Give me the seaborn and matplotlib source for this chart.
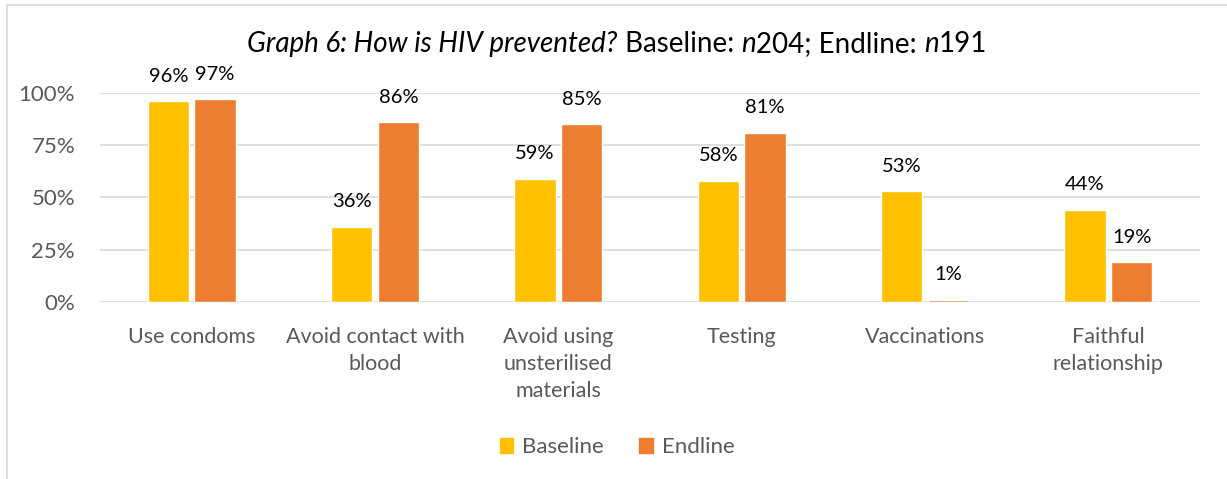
import pandas as pd
import numpy as np
import seaborn as sns
import matplotlib.pyplot as plt
from matplotlib.patches import Rectangle

# -------- data --------
categories = ['Use condoms', 'Avoid contact with\nblood', 'Avoid using\nunsterilised\nmaterials',
              'Testing', 'Vaccinations', 'Faithful\nrelationship']
baseline = [96, 36, 59, 58, 53, 44]
endline = [97, 86, 85, 81, 1, 19]
series_names = ['Baseline', 'Endline']
colors = ['#FFC000', '#ED7D31']

df = pd.DataFrame({
    'category': categories * 2,
    'value': np.array(baseline + endline) / 100,
    'series': [series_names[0]] * len(categories) + [series_names[1]] * len(categories),
})

sns.set_style('white')
plt.rcParams['font.family'] = ['Lato', 'DejaVu Sans']

fig = plt.figure(figsize=(12.27, 4.79), dpi=100)
ax = fig.add_axes([0.0815, 0.3695, 0.8965, 0.4365])

sns.barplot(data=df, x='category', y='value', hue='series', palette=colors,
            width=0.51, gap=0.12, ax=ax, legend=False, saturation=1)

ax.set_ylim(0, 1)
ax.set_xlim(-0.5, len(categories) - 0.5)
ax.set_yticks([0, 0.25, 0.5, 0.75, 1.0])
ax.set_yticklabels(['0%', '25%', '50%', '75%', '100%'])
ax.yaxis.grid(True, color='#D9D9D9', linewidth=1.2)
ax.set_axisbelow(True)
for s in ax.spines.values():
    s.set_visible(False)
ax.tick_params(axis='both', length=0, labelcolor='#595959')
ax.tick_params(axis='x', pad=18, labelsize=15.5)
ax.tick_params(axis='y', pad=18, labelsize=16)
for lbl in ax.get_xticklabels():
    lbl.set_linespacing(1.45)
ax.set_xlabel('')
ax.set_ylabel('')

# data labels
for cont in ax.containers:
    ax.bar_label(cont, labels=[f'{v * 100:.0f}%' for v in cont.datavalues],
                 padding=12, fontsize=14.5, color='#000000')

# title with mixed italics
pieces = [('Graph 6: How is HIV prevented?', 'italic'), (' Baseline: ', 'normal'),
          ('n', 'italic'), ('204; Endline: ', 'normal'), ('n', 'italic'), ('191', 'normal')]
renderer = fig.canvas.get_renderer()
texts = []
for txt, style in pieces:
    t = fig.text(0, 0.908, txt, fontsize=20, style=style, color='#000000', va='center')
    texts.append(t)
widths = [t.get_window_extent(renderer).width / fig.bbox.width for t in texts]
total = sum(widths)
x = 0.503 - total / 2
for t, w in zip(texts, widths):
    t.set_x(x)
    x += w

# legend
handles = [Rectangle((0, 0), 1, 1, color=c) for c in colors]
fig.legend(handles, series_names, loc='center', bbox_to_anchor=(0.503, 0.066), ncol=2,
           frameon=False, fontsize=16, labelcolor='#595959', handlelength=0.6,
           handleheight=0.6, handletextpad=0.4, columnspacing=1.6)

# chart border
fig.patches.append(Rectangle((0.006, -0.1), 1.2, 1.09, transform=fig.transFigure,
                             fill=False, edgecolor='#D9D9D9', linewidth=1.2))

fig.savefig('out.png', dpi=100)
